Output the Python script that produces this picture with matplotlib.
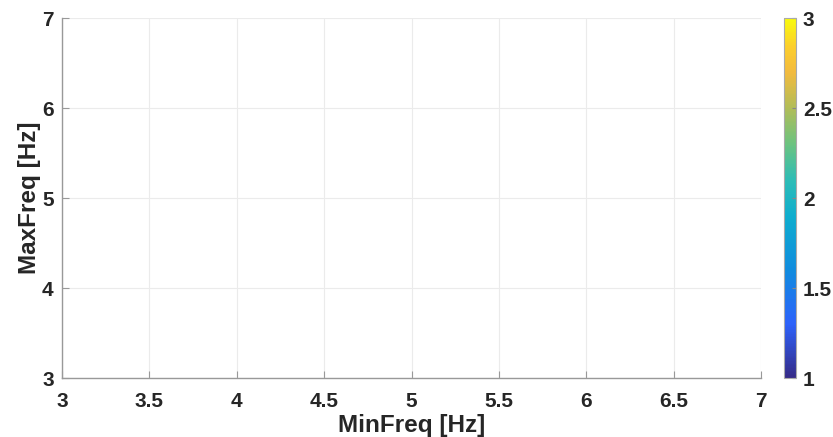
import matplotlib
matplotlib.use("Agg")
import matplotlib.pyplot as plt
import numpy as np
from matplotlib.colors import LinearSegmentedColormap, Normalize
import matplotlib.cm as cm

x_ticks = [3, 3.5, 4, 4.5, 5, 5.5, 6, 6.5, 7]
x_ticklabels = ["3", "3.5", "4", "4.5", "5", "5.5", "6", "6.5", "7"]
y_ticks = [3, 4, 5, 6, 7]
y_ticklabels = ["3", "4", "5", "6", "7"]
cbar_ticks = [1, 1.5, 2, 2.5, 3]
cbar_ticklabels = ["1", "1.5", "2", "2.5", "3"]
x_label = "MinFreq [Hz]"
y_label = "MaxFreq [Hz]"

parula_pts = [
    (0.00, (0.208, 0.166, 0.529)),
    (0.15, (0.177, 0.385, 0.984)),
    (0.30, (0.062, 0.549, 0.871)),
    (0.45, (0.055, 0.680, 0.808)),
    (0.55, (0.176, 0.739, 0.713)),
    (0.65, (0.420, 0.765, 0.502)),
    (0.75, (0.691, 0.741, 0.345)),
    (0.85, (0.950, 0.733, 0.243)),
    (0.92, (0.987, 0.805, 0.175)),
    (1.00, (0.976, 0.983, 0.054)),
]
parula = LinearSegmentedColormap.from_list("parula", parula_pts)

plt.rcParams['font.family'] = ['Liberation Sans', 'DejaVu Sans']
plt.rcParams['font.weight'] = 'bold'

fig = plt.figure(figsize=(8.33, 4.37), dpi=100)
W, H = 833, 437
ax = fig.add_axes([62 / W, 1 - 378 / H, (761 - 62) / W, (378 - 18) / H])
cax = fig.add_axes([784 / W, 1 - 378 / H, (796 - 784) / W, (378 - 18) / H])

txt = '#262626'
ax.set_xlim(3, 7)
ax.set_ylim(3, 7)
ax.set_xticks(x_ticks)
ax.set_xticklabels(x_ticklabels)
ax.set_yticks(y_ticks)
ax.set_yticklabels(y_ticklabels)
ax.grid(True, color='#ebebeb', linewidth=0.8)
ax.set_axisbelow(True)
for s in ['top', 'right']:
    ax.spines[s].set_visible(False)
for s in ['left', 'bottom']:
    ax.spines[s].set_color('#999999')
    ax.spines[s].set_linewidth(1.0)
ax.tick_params(direction='in', length=5, width=0.8, color='#999999',
               labelsize=15, labelcolor=txt)
ax.tick_params(axis='x', pad=10)
ax.tick_params(axis='y', pad=6)
for lab in ax.get_xticklabels() + ax.get_yticklabels():
    lab.set_fontweight('bold')
ax.set_xlabel(x_label, fontsize=17.5, fontweight='bold', color=txt, labelpad=2)
ax.set_ylabel(y_label, fontsize=17.5, fontweight='bold', color=txt, labelpad=1)

sm = cm.ScalarMappable(norm=Normalize(vmin=1, vmax=3), cmap=parula)
cb = fig.colorbar(sm, cax=cax)
cb.set_ticks(cbar_ticks)
cb.set_ticklabels(cbar_ticklabels)
cb.outline.set_edgecolor('#aaaaaa')
cb.outline.set_linewidth(0.8)
cax.tick_params(direction='in', length=3, width=0.8, color='#888888',
                labelsize=15, labelcolor=txt, pad=5)
for lab in cax.get_yticklabels():
    lab.set_fontweight('bold')

fig.savefig("out.png", dpi=100, facecolor='white')
